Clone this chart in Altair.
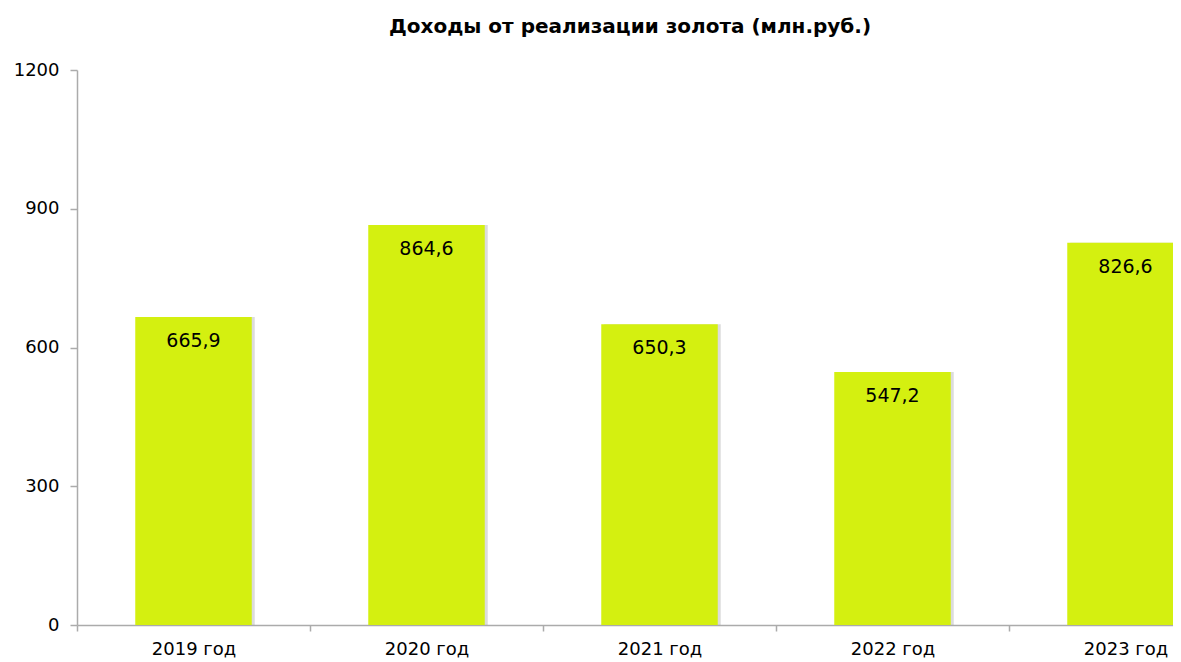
import altair as alt
import pandas as pd

years = ["2019 год", "2020 год", "2021 год", "2022 год", "2023 год"]
values = [665.9, 864.6, 650.3, 547.2, 826.6]
y_ticks = [0, 300, 600, 900, 1200]

df = pd.DataFrame({"year": years, "value": values})

x_enc = alt.X(
    "year:N",
    sort=years,
    scale=alt.Scale(range=[0, 1165], paddingInner=0, paddingOuter=0),
    axis=alt.Axis(
        title=None, labelAngle=0, tickBand="extent", tickSize=6,
        labelPadding=9, labelFont="DejaVu Sans", labelFontSize=18,
        labelColor="#000000", domainColor="#ababab", tickColor="#ababab",
        domainWidth=1.5, tickWidth=1.5,
    ),
)
y_enc = alt.Y(
    "value:Q",
    scale=alt.Scale(domain=[0, 1200]),
    axis=alt.Axis(
        title=None, values=y_ticks, format="d", grid=False, tickSize=7,
        labelPadding=11, labelFont="DejaVu Sans", labelFontSize=18,
        labelColor="#000000", domainColor="#ababab", tickColor="#ababab",
        domainWidth=1.5, tickWidth=1.5,
    ),
)

base = alt.Chart(df)

shadow = base.mark_bar(
    color="#9a9a9a", opacity=0.35, xOffset=3, width=alt.RelativeBandSize(0.5)
).encode(x=x_enc, y=y_enc)
bars = base.mark_bar(
    color="#D4F010", width=alt.RelativeBandSize(0.5)
).encode(x=x_enc, y=y_enc)
labels = base.transform_calculate(
    label="replace(format(datum.value, '.1f'), '.', ',')"
).mark_text(
    baseline="top", dy=15, font="DejaVu Sans", fontSize=19, color="#000000"
).encode(x=x_enc, y=y_enc, text="label:N")

chart = alt.layer(shadow, bars, labels).properties(
    width=1096,
    height=555,
    title=alt.TitleParams(
        "Доходы от реализации золота (млн.руб.)",
        font="DejaVu Sans", fontSize=20, fontWeight="bold", color="#000000",
        anchor="middle", dx=5, offset=24,
    ),
    autosize=alt.AutoSizeParams(type="none"),
    padding={"left": 69, "top": 62, "right": 0, "bottom": 37},
).configure(background="white").configure_view(stroke=None)

chart.save("out.html", embed_options={"renderer": "svg", "actions": False})
